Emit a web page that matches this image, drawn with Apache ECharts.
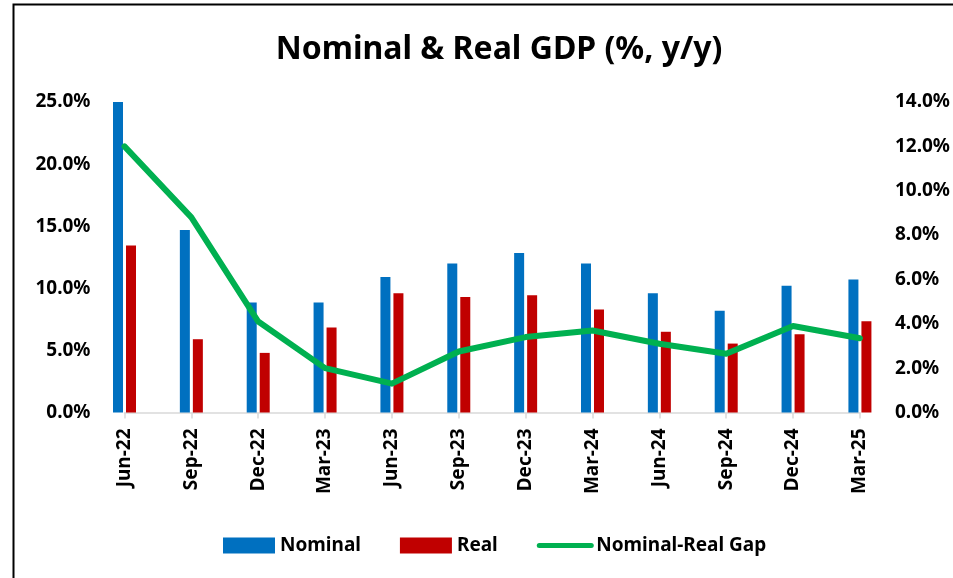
<!DOCTYPE html>
<html>
<head>
<meta charset="utf-8">
<script src="https://cdn.jsdelivr.net/npm/echarts@6/dist/echarts.min.js"></script>
<style>
	html, body { margin: 0; padding: 0; background: #fff; }
	#gdp-chart { width: 953px; height: 578px; }
</style>
</head>
<body>
<div id="gdp-chart"></div>
<script>
var quarters = ['Jun-22', 'Sep-22', 'Dec-22', 'Mar-23', 'Jun-23', 'Sep-23', 'Dec-23', 'Mar-24', 'Jun-24', 'Sep-24', 'Dec-24', 'Mar-25'];
var nominalGdp = [25.0, 14.7, 8.85, 8.85, 10.9, 12.0, 12.85, 12.0, 9.6, 8.2, 10.2, 10.7];
var realGdp = [13.45, 5.9, 4.8, 6.85, 9.6, 9.3, 9.45, 8.3, 6.5, 5.55, 6.3, 7.35];
var gapValues = [12.0, 8.8, 4.1, 2.0, 1.3, 2.75, 3.4, 3.7, 3.1, 2.65, 3.9, 3.35];
var leftTicks = { min: 0, max: 25, step: 5 };
var rightTicks = { min: 0, max: 14, step: 2 };

function pct(v) {
	return v.toFixed(1) + '%';
}

function initGdpChart(chartId) {
	var dom = document.getElementById(chartId);
	var myChart = echarts.init(dom);
	var font = 'Noto Sans';

	var option = {
		animation: false,
		backgroundColor: '#fff',
		title: {
			text: 'Nominal & Real GDP (%, y/y)',
			left: 494,
			textAlign: 'center',
			top: 29,
			textStyle: {
				fontFamily: font,
				fontSize: 32,
				fontWeight: 'bold',
				color: '#000'
			}
		},
		// chart frame, cut off on the right and bottom like the source
		graphic: [{
			type: 'rect',
			shape: { x: 13.5, y: 4.5, width: 1100, height: 700 },
			style: { fill: 'none', stroke: '#000', lineWidth: 2 },
			silent: true
		}],
		legend: {
			left: 223,
			top: 536,
			padding: 0,
			itemWidth: 52,
			itemHeight: 16,
			itemGap: 39,
			textStyle: {
				fontFamily: font,
				fontSize: 19,
				fontWeight: 'bold',
				color: '#000'
			},
			data: [
				{ name: 'Nominal', icon: 'rect' },
				{ name: 'Real', icon: 'rect' },
				{ name: 'Nominal-Real Gap', itemStyle: { opacity: 0 }, lineStyle: { width: 5, cap: 'round' } }
			]
		},
		grid: {
			left: 124.5,
			right: 91,
			top: 102,
			bottom: 165.5
		},
		xAxis: {
			type: 'category',
			boundaryGap: false,
			data: quarters,
			axisLine: { lineStyle: { color: '#d9d9d9', width: 1.5 } },
			axisTick: { show: true, length: 6, lineStyle: { color: '#d9d9d9', width: 1.5 } },
			axisLabel: {
				rotate: 90,
				interval: 0,
				margin: 16,
				fontFamily: font,
				fontSize: 19,
				fontWeight: 'bold',
				color: '#000'
			}
		},
		yAxis: [{
			type: 'value',
			min: leftTicks.min,
			max: leftTicks.max,
			interval: leftTicks.step,
			splitLine: { show: false },
			axisLine: { show: false },
			axisTick: { show: false },
			axisLabel: {
				margin: 34,
				formatter: pct,
				fontFamily: font,
				fontSize: 19,
				fontWeight: 'bold',
				color: '#000'
			}
		}, {
			type: 'value',
			min: rightTicks.min,
			max: rightTicks.max,
			interval: rightTicks.step,
			splitLine: { show: false },
			axisLine: { show: false },
			axisTick: { show: false },
			axisLabel: {
				margin: 35,
				formatter: pct,
				fontFamily: font,
				fontSize: 19,
				fontWeight: 'bold',
				color: '#000'
			}
		}],
		series: [{
			name: 'Nominal',
			type: 'bar',
			barWidth: 10,
			barGap: '30%',
			clip: false,
			itemStyle: { color: '#0070c0' },
			data: nominalGdp
		}, {
			name: 'Real',
			type: 'bar',
			barWidth: 10,
			clip: false,
			itemStyle: { color: '#c00000' },
			data: realGdp
		}, {
			name: 'Nominal-Real Gap',
			type: 'line',
			yAxisIndex: 1,
			symbol: 'none',
			lineStyle: { color: '#00b050', width: 6, cap: 'round', join: 'round' },
			itemStyle: { color: '#00b050' },
			data: gapValues
		}]
	};

	myChart.setOption(option, true);
}

onload = function() {
	initGdpChart('gdp-chart');
}
</script>
</body>
</html>
